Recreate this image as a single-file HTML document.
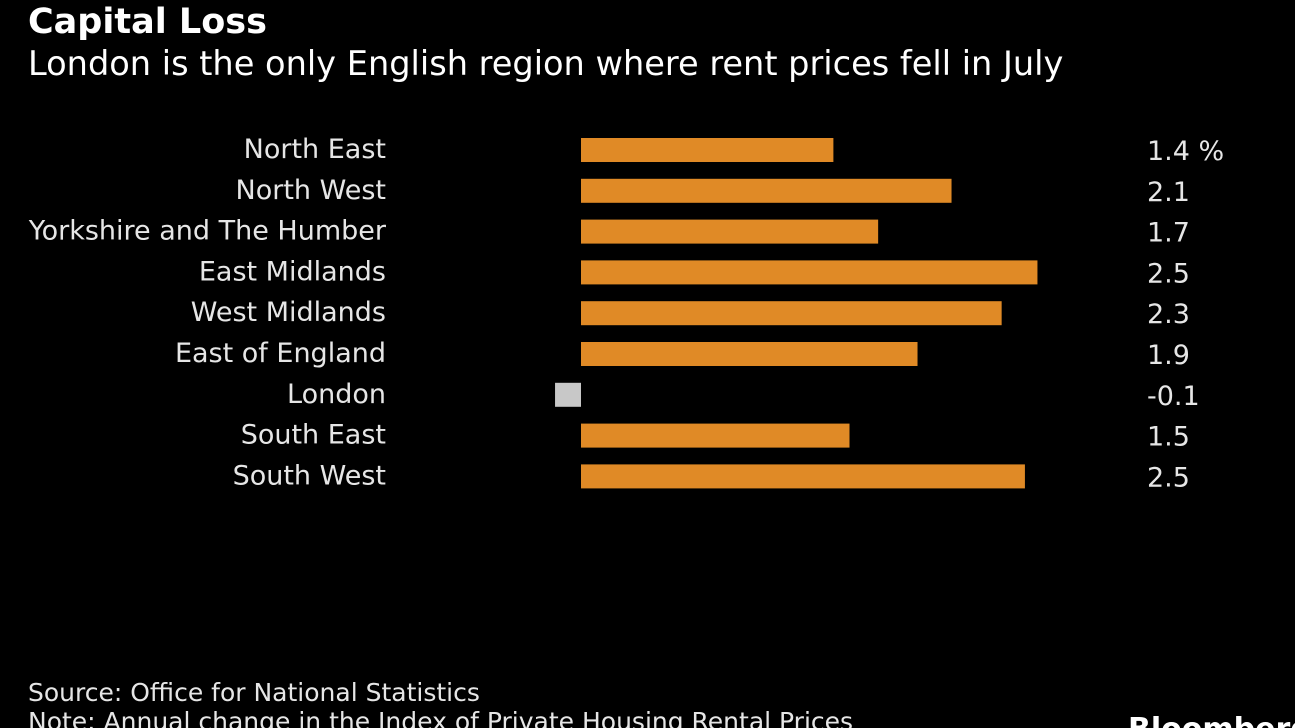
<!DOCTYPE html>
<html style="overflow:hidden;height:728px"><head><meta charset="utf-8"><style>
html,body{overflow:hidden}
body{margin:0;background:#000;width:1295px;height:728px;overflow:hidden;font-family:"DejaVu Sans","Liberation Sans",sans-serif;color:#e6e6e6;position:relative}
.t{position:absolute;white-space:nowrap}
</style></head><body>
<div class="t" style="left:28px;top:2px;font-size:35px;font-weight:bold;color:#fff">Capital Loss</div>
<div class="t" style="left:28px;top:44px;font-size:33.6px;color:#fff">London is the only English region where rent prices fell in July</div>
<svg id="c" width="1295" height="728" style="position:absolute;left:0;top:0"></svg>
<div class="t" style="left:28px;top:678px;font-size:25px">Source: Office for National Statistics</div>
<div class="t" style="left:28px;top:707px;font-size:25px;height:21px;overflow:hidden">Note: Annual change in the Index of Private Housing Rental Prices</div>
<div class="t" style="left:1128px;top:712px;font-size:30px;font-weight:bold;color:#fff;height:16px;overflow:hidden">Bloomberg</div>
<script>
const categories=["North East","North West","Yorkshire and The Humber","East Midlands","West Midlands","East of England","London","South East","South West"];
const values=[1.41,2.07,1.66,2.55,2.35,1.88,-0.145,1.5,2.48];
const printed=["1.4 %","2.1","1.7","2.5","2.3","1.9","-0.1","1.5","2.5"];
const svg=document.getElementById('c');
const NS='http://www.w3.org/2000/svg';
const x0=581,scale=179,y0=150,step=40.8;
const xs=v=>x0+v*scale;
const ys=i=>y0+i*step;
categories.forEach((c,i)=>{
  const v=values[i],cy=ys(i);
  const r=document.createElementNS(NS,'rect');
  
  
  r.setAttribute('x',Math.min(xs(0),xs(v)));r.setAttribute('y',cy-12);
  r.setAttribute('width',Math.abs(xs(v)-xs(0)));r.setAttribute('height',24);
  r.setAttribute('fill',v<0?'#c8c8c8':'#e08a26');
  svg.appendChild(r);
  const l=document.createElementNS(NS,'text');
  
  
  l.setAttribute('x',386);l.setAttribute('y',cy+8);l.setAttribute('text-anchor','end');
  l.setAttribute('font-size','27');l.setAttribute('fill','#e6e6e6');
  l.textContent=c;svg.appendChild(l);
  const t=document.createElementNS(NS,'text');
  
  
  t.setAttribute('x',1147);t.setAttribute('y',cy+10);
  t.setAttribute('font-size','27');t.setAttribute('fill','#e6e6e6');
  t.textContent=printed[i];svg.appendChild(t);
});
</script>
</body></html>
